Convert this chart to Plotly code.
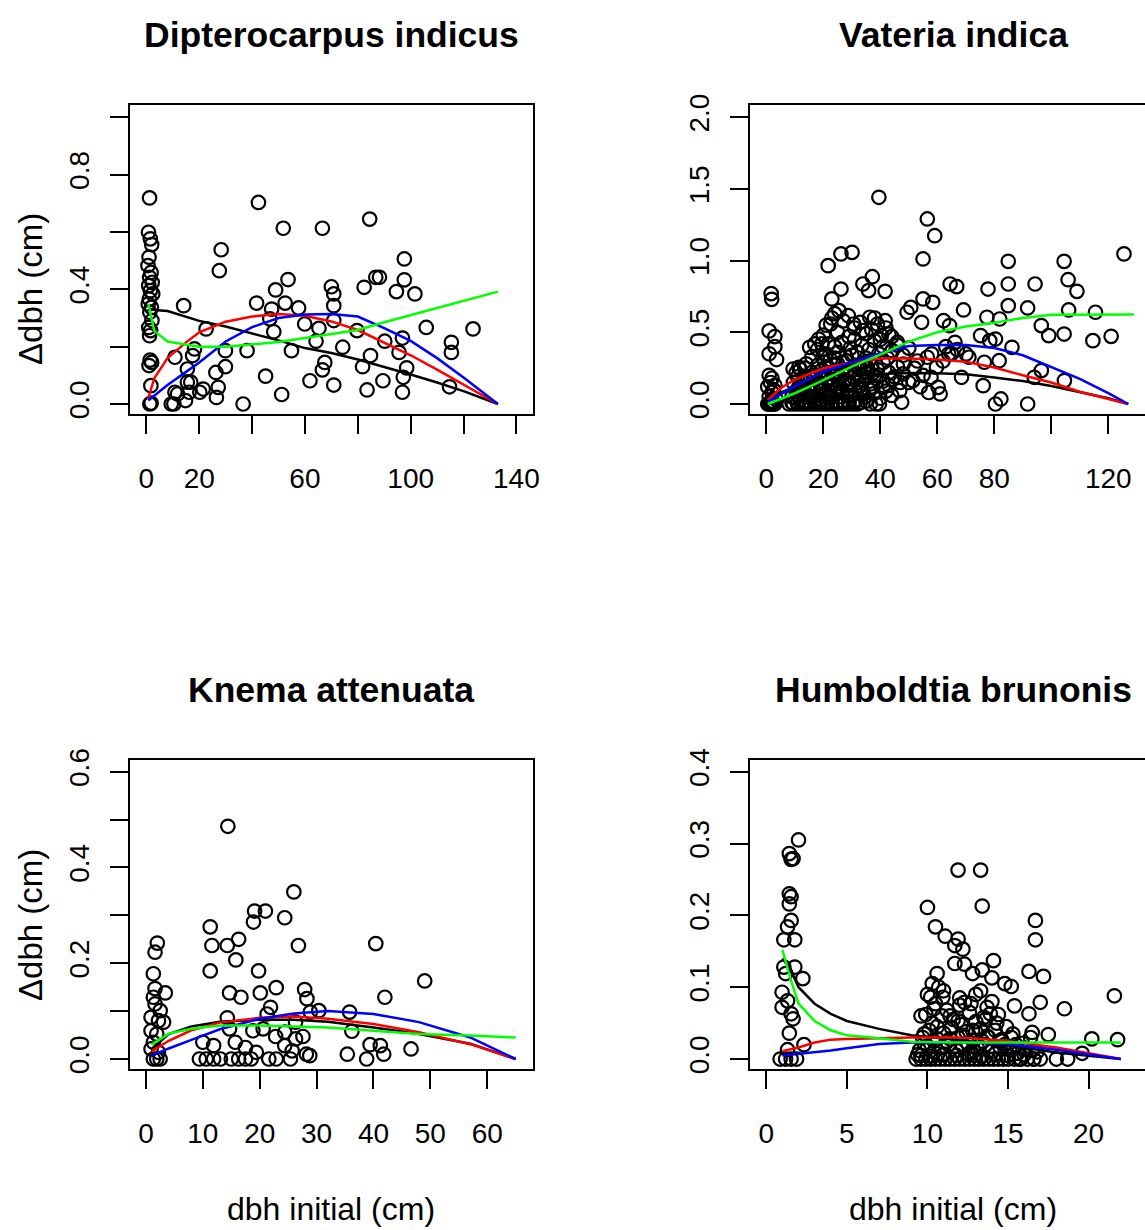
import plotly.graph_objects as go

W, H = 1145, 1230

# ---------------- data ----------------
titles = ["Dipterocarpus indicus", "Vateria indica", "Knema attenuata", "Humboldtia brunonis"]
ylab = "Δdbh (cm)"
xlab = "dbh initial (cm)"

# Panel 1: Dipterocarpus indicus
di_x = [1.2, 0.8, 1.5, 2.0, 1.0, 0.6, 1.8, 1.2, 2.2, 0.9, 1.5, 2.4, 1.1, 0.7, 1.9, 1.3, 2.1, 0.9, 1.6, 1.2, 1.4, 2.0, 1.0, 1.7, 1.3, 1.8,
        14.1, 10.8, 10.8, 9.4, 10.4, 11.8, 14.8, 15.5, 15.5, 16.8, 17.5, 18.2, 16.2, 20.2, 21.5, 22.6, 26.3, 26.5, 27.2, 27.6, 28.3,
        29.9, 29.9, 36.6, 38.1, 41.7, 42.4, 45.1, 46.7, 47.4, 48.2, 48.9, 51.2, 51.8, 52.5, 53.6, 54.9, 57.6, 59.9, 61.9, 64.2, 65.3,
        66.6, 66.6, 67.5, 70.0, 70.9, 70.9, 70.9, 70.9, 74.3, 79.7, 81.8, 82.4, 83.5, 84.5, 84.8, 86.8, 88.2, 89.5, 90.2, 94.6, 95.6,
        96.9, 97.2, 96.9, 97.6, 97.6, 98.5, 101.6, 105.9, 114.7, 115.4, 115.4, 123.6]
di_y = [0.719, 0.599, 0.576, 0.556, 0.512, 0.483, 0.459, 0.442, 0.424, 0.413, 0.395, 0.384, 0.366, 0.349, 0.337, 0.320, 0.291, 0.267,
        0.256, 0.238, 0.153, 0.145, 0.134, 0.064, 0.0, 0.003,
        0.343, 0.163, 0.041, 0.0, 0.0, 0.035, 0.012, 0.076, 0.122, 0.076, 0.169, 0.192, 0.041, 0.041, 0.052, 0.262, 0.110, 0.023, 0.058,
        0.465, 0.538, 0.186, 0.130, 0.0, 0.186, 0.352, 0.703, 0.097, 0.297, 0.331, 0.252, 0.398, 0.033, 0.613, 0.352, 0.434, 0.186,
        0.335, 0.279, 0.081, 0.219, 0.264, 0.613, 0.119, 0.145, 0.409, 0.384, 0.343, 0.291, 0.066, 0.198, 0.256, 0.130, 0.407, 0.049,
        0.645, 0.169, 0.442, 0.442, 0.081, 0.219, 0.392, 0.180, 0.230, 0.093, 0.041, 0.506, 0.433, 0.126, 0.384, 0.267, 0.060, 0.215,
        0.180, 0.262]
di_line_x = [0.7, 3, 8, 15, 20, 30, 40, 50, 60, 70, 80, 90, 100, 110, 120, 133]
di_black = [0.334, 0.328, 0.324, 0.305, 0.29, 0.27, 0.247, 0.222, 0.195, 0.178, 0.155, 0.13, 0.103, 0.075, 0.045, 0.0]
di_red = [0.02, 0.09, 0.16, 0.215, 0.25, 0.287, 0.305, 0.314, 0.308, 0.288, 0.258, 0.215, 0.17, 0.12, 0.067, 0.0]
di_blue = [0.012, 0.03, 0.066, 0.112, 0.145, 0.218, 0.268, 0.3, 0.312, 0.314, 0.305, 0.265, 0.22, 0.16, 0.092, 0.0]
di_green = [0.35, 0.255, 0.218, 0.206, 0.2, 0.2, 0.207, 0.216, 0.23, 0.245, 0.258, 0.285, 0.31, 0.333, 0.36, 0.392]

# Panel 2: Vateria indica
vi_x = [39.5, 56.5, 59.1, 55.0, 30.1, 26.2, 21.7, 125.5, 84.9, 104.5, 105.9, 109.0, 94.3, 84.9, 64.5, 66.8, 37.2, 33.9, 35.9, 41.7,
        26.2, 23.0, 77.8, 84.9, 91.7, 69.2, 106.1, 115.5, 77.4, 81.9, 96.5, 99.1, 104.5, 121.0, 114.6, 55.0, 58.4, 50.7, 49.4, 54.5,
        62.2, 64.3, 75.2, 78.4, 80.4, 86.2, 66.2, 70.1, 64.0, 71.1, 81.7, 76.5, 96.5, 94.0, 104.6, 68.5, 76.1, 80.4, 82.3, 91.7, 61.0,
        60.3, 57.8, 59.7, 56.5, 51.4, 47.5, 46.8, 44.2, 48.1, 44.2, 41.0, 38.5, 36.5, 39.7, 41.7, 40.4, 43.0, 39.0, 36.3, 33.9, 30.7,
        28.8, 25.5, 22.6, 21.7, 19.7, 17.0, 18.4, 15.2, 11.4, 13.3, 9.4,
        0.5, 1.0, 1.5, 2.0, 2.5, 3.0, 1.0, 2.0, 0.5, 1.5, 2.5, 1.0, 2.0, 3.0, 1.0, 3.0, 1.0, 1.7, 1.9, 3.0, 3.6, 2.0, 3.5,
        8, 9.5, 11, 12.5, 14, 15.5, 17, 18.5, 20, 21.5, 23, 24.5, 26, 27.5, 29, 30.5, 32,
        9, 10.5, 12, 13.5, 15, 16.5, 18, 19.5, 21, 22.5, 24, 25.5, 27, 28.5, 30, 31.5, 33, 34.5, 36, 37.5, 40, 42, 44,
        9.5, 11, 12.5, 14, 15.5, 17, 18.5, 20, 21.5, 23, 24.5, 26, 27.5, 29, 30.5, 32, 33.5, 35, 36.5, 38, 41, 43, 45, 47,
        12, 14, 16, 18, 19, 20.5, 22, 23.5, 25, 26.5, 28, 29.5, 31, 32.5, 34, 35.5, 37, 39, 41, 43, 46, 48,
        16, 18, 19.5, 21, 22.5, 24, 25, 26.5, 28, 29.5, 31, 32, 33.5, 35, 36, 38, 39.5, 41, 42.5, 44, 46, 48, 50,
        20, 21, 23, 24, 25, 27, 29, 31, 33, 35, 37, 38, 40, 42, 44, 46,
        52, 53, 55, 58, 62, 63, 65, 67, 50, 54, 57,
        10, 11.5, 13, 14.5, 16, 17.5, 19, 20.5, 22, 23.5, 25, 26.5, 28, 29.5, 31, 32.5, 34, 35.5, 37, 38.5,
        10.5, 12, 13.5, 15, 16.5, 18, 19.5, 21, 22.5, 24, 25.5, 27, 28.5, 30, 31.5, 33, 34.5, 36,
        9, 11, 13, 15, 17, 19, 21, 23, 25, 27, 29, 31, 33, 35]
vi_y = [1.442, 1.291, 1.174, 1.012, 1.058, 1.047, 0.965, 1.047, 0.995, 0.995, 0.867, 0.786, 0.837, 0.837, 0.837, 0.819, 0.888, 0.837,
        0.791, 0.786, 0.802, 0.733, 0.802, 0.686, 0.670, 0.656, 0.656, 0.640, 0.605, 0.593, 0.547, 0.477, 0.488, 0.472, 0.442, 0.733,
        0.709, 0.674, 0.640, 0.570, 0.581, 0.547, 0.477, 0.442, 0.453, 0.395, 0.430, 0.349, 0.349, 0.326, 0.302, 0.291, 0.233, 0.186,
        0.163, 0.186, 0.128, 0.0, 0.035, 0.0, 0.070, 0.116, 0.186, 0.256, 0.326, 0.163, 0.012, 0.093, 0.174, 0.279, 0.372, 0.116, 0.0,
        0.0, 0.0, 0.581, 0.477, 0.488, 0.558, 0.605, 0.512, 0.558, 0.616, 0.651, 0.558, 0.419, 0.326, 0.419, 0.453, 0.395, 0.256,
        0.186, 0.244,
        0, 0, 0, 0, 0, 0, 0.05, 0.08, 0.12, 0.15, 0.10, 0.20, 0.18, 0.13, 0.35, 0.40, 0.51, 0.77, 0.73, 0.47, 0.31, 0.02, 0.03,
        0, 0, 0, 0, 0, 0, 0, 0, 0, 0, 0, 0, 0, 0, 0, 0, 0,
        0.05, 0.09, 0.03, 0.07, 0.02, 0.10, 0.06, 0.03, 0.08, 0.04, 0.10, 0.05, 0.02, 0.09, 0.06, 0.03, 0.08, 0.05, 0.10, 0.07, 0.04,
        0.09, 0.06,
        0.15, 0.19, 0.12, 0.17, 0.13, 0.20, 0.15, 0.11, 0.18, 0.14, 0.20, 0.12, 0.17, 0.13, 0.19, 0.15, 0.11, 0.18, 0.14, 0.20, 0.16,
        0.13, 0.19, 0.15,
        0.24, 0.28, 0.22, 0.27, 0.23, 0.29, 0.25, 0.21, 0.28, 0.24, 0.30, 0.22, 0.27, 0.25, 0.29, 0.22, 0.27, 0.24, 0.29, 0.22, 0.26,
        0.21,
        0.33, 0.38, 0.42, 0.35, 0.31, 0.40, 0.36, 0.43, 0.33, 0.39, 0.45, 0.36, 0.41, 0.32, 0.38, 0.44, 0.35, 0.40, 0.32, 0.37, 0.43,
        0.34, 0.39,
        0.48, 0.55, 0.60, 0.63, 0.50, 0.58, 0.47, 0.53, 0.57, 0.49, 0.52, 0.60, 0.45, 0.53, 0.47, 0.41,
        0.25, 0.30, 0.20, 0.35, 0.30, 0.40, 0.35, 0.38, 0.15, 0.12, 0.08,
        0.04, 0.12, 0.07, 0.16, 0.05, 0.13, 0.09, 0.21, 0.06, 0.17, 0.11, 0.08, 0.22, 0.14, 0.10, 0.19, 0.07, 0.25, 0.12, 0.18,
        0.22, 0.08, 0.25, 0.10, 0.18, 0.03, 0.20, 0.26, 0.12, 0.32, 0.16, 0.29, 0.06, 0.34, 0.21, 0.13, 0.26, 0.30,
        0.01, 0.01, 0.015, 0.01, 0.02, 0.01, 0.015, 0.01, 0.02, 0.01, 0.015, 0.01, 0.01, 0.02]
vi_line_x = [0.5, 5, 10, 15, 20, 30, 40, 50, 60, 70, 80, 90, 100, 110, 120, 127]
vi_black = [0.02, 0.08, 0.12, 0.15, 0.17, 0.195, 0.21, 0.216, 0.215, 0.208, 0.185, 0.16, 0.125, 0.085, 0.04, 0.0]
vi_red = [0.028, 0.11, 0.17, 0.21, 0.249, 0.29, 0.318, 0.318, 0.31, 0.295, 0.255, 0.2, 0.15, 0.085, 0.035, 0.0]
vi_blue = [0.015, 0.07, 0.125, 0.175, 0.225, 0.29, 0.355, 0.405, 0.412, 0.412, 0.39, 0.34, 0.26, 0.175, 0.075, 0.0]
vi_green_x = [0.5, 5, 10, 15, 20, 30, 40, 50, 60, 70, 80, 90, 100, 110, 120, 129]
vi_green = [0.0, 0.035, 0.075, 0.12, 0.167, 0.26, 0.345, 0.435, 0.5, 0.54, 0.567, 0.6, 0.623, 0.625, 0.625, 0.625]

# Panel 3: Knema attenuata
ka_x = [14.4, 26.0, 24.4, 19.1, 21.0, 18.9, 11.3, 11.6, 14.3, 16.3, 26.8, 40.4, 15.8, 11.3, 19.8, 49.0, 22.9, 27.9, 14.7, 20.1,
        16.7, 28.3, 42.0, 21.9, 30.4, 35.8, 28.9, 21.3, 14.3, 26.3, 18.8, 20.6, 36.2, 22.8, 24.4, 27.6, 26.3, 14.7, 10.0, 11.9, 15.7,
        17.5, 19.4, 24.4, 25.7, 35.4, 39.4, 41.2, 41.8, 38.8, 46.6, 28.2, 28.8,
        9.4, 10.6, 11.9, 13.1, 15.0, 16.3, 17.5, 18.5, 21.6, 22.9, 25.4,
        1.3, 1.6, 2.0, 3.4, 1.6, 1.3, 1.6, 2.5, 0.9, 2.2, 3.1, 0.9, 1.9, 1.3, 0.9, 2.2, 1.3, 2.5, 1.9]
ka_y = [0.486, 0.349, 0.295, 0.309, 0.309, 0.286, 0.276, 0.237, 0.237, 0.250, 0.237, 0.241, 0.207, 0.184, 0.184, 0.163, 0.149, 0.145,
        0.138, 0.138, 0.129, 0.126, 0.129, 0.108, 0.101, 0.098, 0.098, 0.094, 0.086, 0.077, 0.059, 0.063, 0.058, 0.047, 0.056, 0.047,
        0.042, 0.063, 0.035, 0.028, 0.035, 0.024, 0.014, 0.028, 0.017, 0.010, 0.030, 0.028, 0.010, 0.0, 0.021, 0.010, 0.007,
        0, 0, 0, 0, 0, 0, 0, 0, 0, 0, 0,
        0.178, 0.223, 0.242, 0.138, 0.147, 0.129, 0.115, 0.101, 0.087, 0.080, 0.077, 0.059, 0.052, 0.035, 0.021, 0.014, 0, 0, 0]
ka_line_x = [1, 4, 8, 13, 20, 26, 32, 40, 48, 57, 65]
ka_black = [0.021, 0.052, 0.068, 0.078, 0.082, 0.082, 0.078, 0.066, 0.052, 0.032, 0.0]
ka_red = [0.016, 0.038, 0.06, 0.076, 0.086, 0.089, 0.084, 0.073, 0.056, 0.031, 0.0]
ka_blue = [0.007, 0.022, 0.04, 0.062, 0.084, 0.095, 0.1, 0.094, 0.077, 0.045, 0.0]
ka_green = [0.030, 0.053, 0.063, 0.070, 0.070, 0.068, 0.066, 0.059, 0.052, 0.049, 0.045]

# Panel 4: Humboldtia brunonis
hb_x = [2.0, 1.43, 1.66, 1.54, 1.43, 1.54, 1.43, 1.54, 1.32, 1.09, 1.77, 1.09, 1.77, 1.2, 2.27, 0.98, 1.32, 0.98, 1.54, 1.66, 1.43,
        2.34, 1.32, 0.86, 1.2, 1.54, 1.88,
        10.0, 10.5, 11.1, 11.9, 13.3, 13.4, 11.9, 11.7, 12.2, 11.7, 12.3, 12.8, 13.4, 14.0, 14.1, 14.8, 15.2, 13.3, 10.6, 10.3, 10.7,
        10.2, 10.96, 10.5, 12.3, 12.7, 13.7, 13.9, 9.9, 11.4, 11.9, 15.4, 16.3, 17.2, 16.7, 16.7, 17.0, 16.3, 18.5, 17.5, 16.5, 20.2,
        21.6, 21.8, 19.6, 18.0, 18.7, 16.6, 15.7,
        9.3, 9.6, 9.9, 10.2, 10.5, 10.8, 11.1, 11.4, 11.7, 12.0, 12.3, 12.6, 12.9, 13.2, 13.5, 13.8, 14.1, 14.4, 14.7, 15.0, 15.4,
        15.8, 16.2, 16.6, 17.0,
        9.5, 10.0, 10.4, 10.9, 11.3, 11.8, 12.2, 12.7, 13.1, 13.6, 14.0, 14.5, 15.1, 15.6, 16.1, 16.8,
        9.7, 10.1, 10.6, 11.0, 11.5, 11.9, 12.4, 12.8, 13.3, 13.7, 14.2, 14.6, 15.3, 16.4,
        10.3, 10.9, 11.6, 12.1, 12.6, 13.0, 13.5, 14.3, 14.9,
        9.8, 10.4, 11.2, 12.5, 13.4, 14.8, 15.9, 9.6, 11.0, 12.9,
        9.4, 9.8, 10.2, 10.6, 11.0, 11.4, 11.8, 12.2, 12.6, 13.0, 13.4, 13.8, 14.2, 14.6, 15.0, 15.5, 16.0, 16.5,
        9.6, 10.4, 11.2, 12.0, 12.8, 13.6, 14.4, 15.2, 10.0, 11.0, 12.0, 13.0, 14.0]
hb_y = [0.305, 0.286, 0.279, 0.278, 0.230, 0.226, 0.216, 0.193, 0.184, 0.166, 0.166, 0.128, 0.128, 0.119, 0.112, 0.093, 0.081, 0.072,
        0.063, 0.056, 0.036, 0.020, 0.013, 0, 0, 0, 0,
        0.211, 0.184, 0.171, 0.263, 0.263, 0.213, 0.167, 0.158, 0.153, 0.133, 0.132, 0.119, 0.124, 0.113, 0.137, 0.105, 0.101, 0.095,
        0.119, 0.105, 0.100, 0.086, 0.086, 0.077, 0.079, 0.077, 0.072, 0.063, 0.062, 0.060, 0.053, 0.074, 0.122, 0.115, 0.193, 0.166,
        0.079, 0.063, 0.070, 0.034, 0.037, 0.028, 0.088, 0.027, 0.008, 0, 0, 0, 0,
        0, 0, 0, 0, 0, 0, 0, 0, 0, 0, 0, 0, 0, 0, 0, 0, 0, 0, 0, 0, 0, 0, 0, 0, 0,
        0.012, 0.018, 0.010, 0.016, 0.020, 0.012, 0.018, 0.010, 0.015, 0.020, 0.011, 0.017, 0.013, 0.008, 0.015, 0.010,
        0.030, 0.040, 0.028, 0.036, 0.044, 0.030, 0.038, 0.026, 0.042, 0.032, 0.040, 0.027, 0.035, 0.030,
        0.050, 0.060, 0.055, 0.048, 0.065, 0.052, 0.058, 0.050, 0.045,
        0.022, 0.025, 0.024, 0.022, 0.025, 0.020, 0.022, 0.005, 0.006, 0.005,
        0.006, 0.035, 0.004, 0.045, 0.007, 0.028, 0.005, 0.033, 0.006, 0.038, 0.004, 0.030, 0.007, 0.025, 0.005, 0.020, 0.006, 0.012,
        0.060, 0.070, 0.068, 0.075, 0.040, 0.055, 0.062, 0.030, 0.090, 0.095, 0.085, 0.090, 0.080]
hb_line_x = [1.0, 1.5, 2, 3, 4, 5, 7, 9, 12, 15, 18, 22]
hb_black = [0.14, 0.125, 0.10, 0.077, 0.063, 0.053, 0.042, 0.033, 0.026, 0.019, 0.009, 0.0]
hb_red = [0.011, 0.013, 0.016, 0.023, 0.027, 0.028, 0.029, 0.030, 0.030, 0.025, 0.016, 0.0]
hb_blue = [0.005, 0.006, 0.007, 0.009, 0.012, 0.015, 0.021, 0.023, 0.023, 0.021, 0.013, 0.0]
hb_green = [0.152, 0.112, 0.077, 0.053, 0.040, 0.033, 0.029, 0.024, 0.023, 0.023, 0.023, 0.023]

# ticks
di_xt = [0, 20, 40, 60, 80, 100, 120, 140]
di_xl = ["0", "20", "", "60", "", "100", "", "140"]
di_yt = [0, 0.2, 0.4, 0.6, 0.8, 1.0]
di_yl = ["0.0", "", "0.4", "", "0.8", ""]
vi_xt = [0, 20, 40, 60, 80, 100, 120]
vi_xl = ["0", "20", "40", "60", "80", "", "120"]
vi_yt = [0, 0.5, 1.0, 1.5, 2.0]
vi_yl = ["0.0", "0.5", "1.0", "1.5", "2.0"]
ka_xt = [0, 10, 20, 30, 40, 50, 60]
ka_xl = ["0", "10", "20", "30", "40", "50", "60"]
ka_yt = [0, 0.1, 0.2, 0.3, 0.4, 0.5, 0.6]
ka_yl = ["0.0", "", "0.2", "", "0.4", "", "0.6"]
hb_xt = [0, 5, 10, 15, 20]
hb_xl = ["0", "5", "10", "15", "20"]
hb_yt = [0, 0.1, 0.2, 0.3, 0.4]
hb_yl = ["0.0", "0.1", "0.2", "0.3", "0.4"]

# ---------------- figure ----------------
FONT = "Liberation Sans, Arial, Helvetica, sans-serif"


def px(v):
    return v / W


def py(v):
    return 1 - v / H


panels = [
    dict(x=di_x, y=di_y, lines=[(di_line_x, di_black), (di_line_x, di_red), (di_line_x, di_blue), (di_line_x, di_green)],
         xt=di_xt, xl=di_xl, yt=di_yt, yl=di_yl, xd=(px(130), px(532.5)), yd=(105, 414.3), xr=(-6.2, 146.1), yr=(-0.036, 1.043),
         right=True, tx=331, ty=35, ylab_y=289, xlab=False),
    dict(x=vi_x, y=vi_y, lines=[(vi_line_x, vi_black), (vi_line_x, vi_red), (vi_line_x, vi_blue), (vi_green_x, vi_green)],
         xt=vi_xt, xl=vi_xl, yt=vi_yt, yl=vi_yl, xd=(px(750), 1.0), yd=(105, 414.3), xr=(-5.72, 132.88), yr=(-0.072, 2.086),
         right=False, tx=953, ty=35, ylab_y=None, xlab=False),
    dict(x=ka_x, y=ka_y, lines=[(ka_line_x, ka_black), (ka_line_x, ka_red), (ka_line_x, ka_blue), (ka_line_x, ka_green)],
         xt=ka_xt, xl=ka_xl, yt=ka_yt, yl=ka_yl, xd=(px(130), px(532.5)), yd=(760, 1069.3), xr=(-2.8, 67.95), yr=(-0.0215, 0.6244),
         right=True, tx=331, ty=690, ylab_y=925, xlab=True),
    dict(x=hb_x, y=hb_y, lines=[(hb_line_x, hb_black), (hb_line_x, hb_red), (hb_line_x, hb_blue), (hb_line_x, hb_green)],
         xt=hb_xt, xl=hb_xl, yt=hb_yt, yl=hb_yl, xd=(px(750), 1.0), yd=(760, 1069.3), xr=(-1.01, 23.5), yr=(-0.0143, 0.4163),
         right=False, tx=953, ty=690, ylab_y=None, xlab=True),
]
colors = ["#000000", "#FF0000", "#0000FF", "#00FF00"]

fig = go.Figure()
annotations = []
for i, p in enumerate(panels, start=1):
    xa = "x" if i == 1 else f"x{i}"
    ya = "y" if i == 1 else f"y{i}"
    fig.add_trace(go.Scatter(x=p["x"], y=p["y"], mode="markers", xaxis=xa, yaxis=ya, showlegend=False,
                             marker=dict(symbol="circle-open", size=13.5, color="black", line=dict(width=2.2, color="black"))))
    for (lx, ly), c in zip(p["lines"], colors):
        fig.add_trace(go.Scatter(x=lx, y=ly, mode="lines", xaxis=xa, yaxis=ya, showlegend=False,
                                 line=dict(color=c, width=2.5)))

    xkey = "xaxis" if i == 1 else f"xaxis{i}"
    ykey = "yaxis" if i == 1 else f"yaxis{i}"
    fig.update_layout(**{
        xkey: dict(domain=[p["xd"][0], p["xd"][1]], range=list(p["xr"]), anchor=ya, automargin=False,
                   showgrid=False, zeroline=False, showline=True, linecolor="black", linewidth=2, mirror=True,
                   ticks="outside", ticklen=18, tickwidth=2, tickcolor="black",
                   tickvals=p["xt"], ticktext=p["xl"], ticklabelstandoff=20,
                   tickfont=dict(family=FONT, size=28, color="black")),
        ykey: dict(domain=[py(p["yd"][1]), py(p["yd"][0])], range=list(p["yr"]), anchor=xa, automargin=False,
                   showgrid=False, zeroline=False, showline=True, linecolor="black", linewidth=2,
                   mirror=p["right"], ticks="outside", ticklen=18, tickwidth=2, tickcolor="black",
                   tickvals=p["yt"], ticktext=p["yl"], tickangle=-90, ticklabelstandoff=10,
                   tickfont=dict(family=FONT, size=28, color="black")),
    })
    annotations.append(dict(text=f"<b>{titles[i-1]}</b>", x=px(p["tx"]), y=py(p["ty"]), xref="paper", yref="paper",
                            showarrow=False, xanchor="center", yanchor="middle",
                            font=dict(family=FONT, size=35.5, color="black")))
    if p["ylab_y"] is not None:
        annotations.append(dict(text=ylab, x=px(30), y=py(p["ylab_y"]), xref="paper", yref="paper", textangle=-90,
                                showarrow=False, xanchor="center", yanchor="middle",
                                font=dict(family=FONT, size=33, color="black")))
    if p["xlab"]:
        annotations.append(dict(text=xlab, x=px(p["tx"]), y=py(1209), xref="paper", yref="paper",
                                showarrow=False, xanchor="center", yanchor="middle",
                                font=dict(family=FONT, size=32, color="black")))

fig.update_layout(width=W, height=H, margin=dict(l=0, r=0, t=0, b=0, pad=0, autoexpand=False), autosize=False,
                  plot_bgcolor="white", paper_bgcolor="white", annotations=annotations)

fig.write_html("out.html", config={"displayModeBar": False},
               post_script="document.body.style.margin='0px';document.body.style.overflow='hidden';")
